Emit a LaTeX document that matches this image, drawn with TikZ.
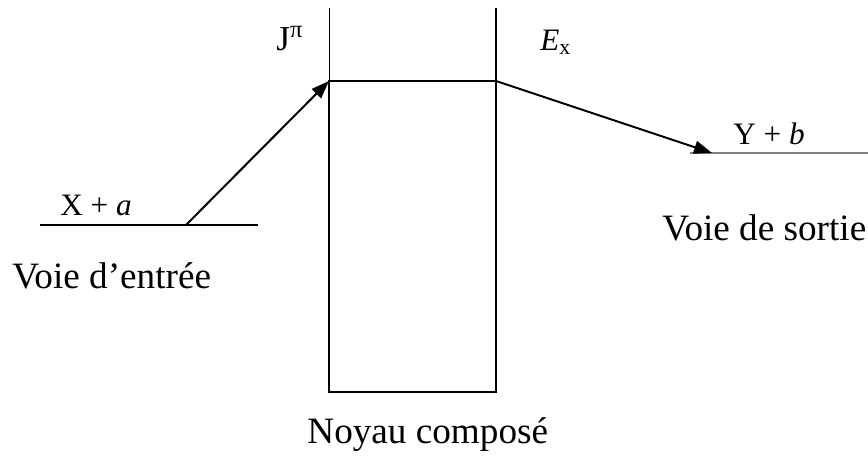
\documentclass[tikz,border=0pt]{standalone}
\usepackage{fontspec}
\setmainfont{Liberation Serif}
\usetikzlibrary{arrows.meta,positioning}

\begin{document}
\begin{tikzpicture}[x=0.5pt, y=-0.5pt,
    big/.style={font=\fontsize{18.6}{22}\selectfont, anchor=base west, inner sep=0pt},
    small/.style={font=\fontsize{15.6}{18}\selectfont, anchor=base west, inner sep=0pt},
    level/.style={line width=1pt},
    trans/.style={line width=1pt, -{Triangle[length=9pt, width=6.5pt]}}]
    \useasboundingbox (0,0) rectangle (868,466);

    \coordinate (inL) at (40,225);
    \coordinate (inR) at (258,225);
    \coordinate (inA) at (186,225);
    \coordinate (topL) at (329,8);
    \coordinate (topR) at (496,8);
    \coordinate (cnL) at (329,81);
    \coordinate (cnR) at (496,81);
    \coordinate (botL) at (329,392);
    \coordinate (botR) at (496,392);
    \coordinate (outA) at (712,153);
    \coordinate (outL) at (690,153);
    \coordinate (outR) at (868,153);

    \draw[line width=0.7pt] (inL) -- (inA);
    \draw[level] (inA) -- (inR);
    \draw[line width=0.5pt] (topL) -- (cnL);
    \draw[level] (topR) -- (cnR);
    \draw[level] (cnL) -- (botL) -- (botR) -- (cnR) -- cycle;
    \draw[line width=0.6pt, gray] (outL) -- (outR);

    \draw[trans] (inA) -- (cnL);
    \draw[trans] (cnR) -- (outA);

    \node[small] (xa) at (60,215) {X + \textit{a}};
    \node[small, font=\fontsize{17.5}{20}\selectfont] (jpi) at (276,50) {J\textsuperscript{π}};
    \node[small] (ex) at (540,50) {\textit{E}\textsubscript{x}};
    \node[small] (yb) at (733,144) {Y + \textit{b}};
    \node[big] (entree) at (12,288) {Voie d’entrée};
    \node[big] (sortie) at (662,240) {Voie de sortie};
    \node[big] (noyau) at (307,443) {Noyau composé};
\end{tikzpicture}
\end{document}
